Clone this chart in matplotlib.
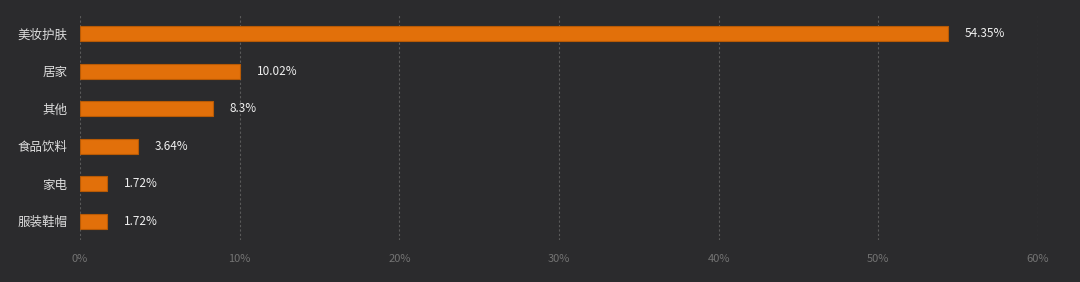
import matplotlib
matplotlib.use("Agg")
import matplotlib.pyplot as plt

plt.rcParams['font.family'] = ['Noto Sans CJK SC', 'DejaVu Sans']

categories = ['美妆护肤', '居家', '其他', '食品饮料', '家电', '服装鞋帽']
values = [54.35, 10.02, 8.3, 3.64, 1.72, 1.72]
value_labels = ['54.35%', '10.02%', '8.3%', '3.64%', '1.72%', '1.72%']
xticks = [0, 10, 20, 30, 40, 50, 60]

bg = '#2b2b2d'
fig = plt.figure(figsize=(10.8, 2.82), dpi=100, facecolor=bg)
ax = fig.add_axes([80 / 1080, 1 - 240 / 282, 958 / 1080, 225 / 282])
ax.set_facecolor(bg)

y = list(range(len(categories)))
ax.barh(y, values, height=0.4, color='#e2700a', edgecolor='#b85a05', linewidth=0.8, zorder=3)
for yi, v, lab in zip(y, values, value_labels):
    ax.text(v + 1.05, yi, lab, va='center', ha='left', color='#f0f0f0', fontsize=8.5)

ax.set_xlim(0, 60)
ax.set_ylim(len(categories) - 0.5, -0.5)
ax.set_xticks(xticks)
ax.set_xticklabels([f'{t}%' for t in xticks])
ax.set_yticks(y)
ax.set_yticklabels(categories)
ax.tick_params(axis='x', colors='#737373', labelsize=8, length=0, pad=10)
ax.tick_params(axis='y', colors='#dddddd', labelsize=9, length=0, pad=9)
ax.grid(axis='x', color='#5a5a5a', linestyle=(0, (2, 2)), linewidth=0.8, zorder=0)
for s in ax.spines.values():
    s.set_visible(False)

fig.savefig('out.png', dpi=100, facecolor=bg)
